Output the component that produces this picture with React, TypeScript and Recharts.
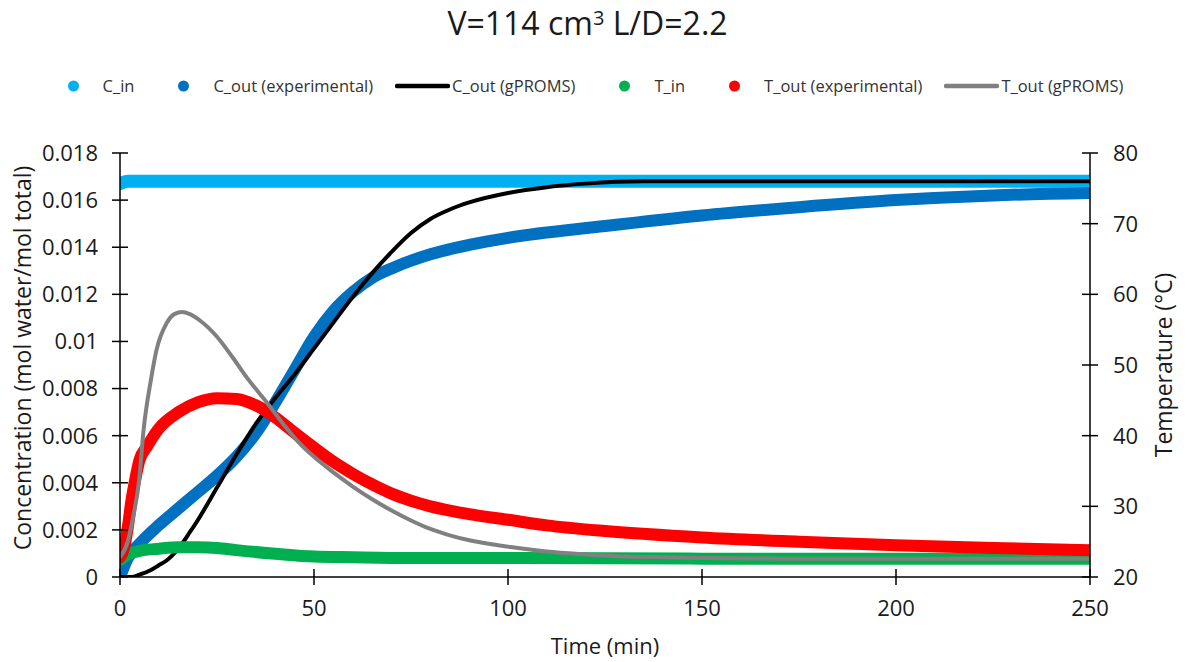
import React from "react";
import { LineChart, Line, XAxis, YAxis, Legend, Label } from "recharts";

const FONT = "'Open Sans', sans-serif";

// axis ticks
const timeTicks = [0, 50, 100, 150, 200, 250];
const concTicks = [0, 0.002, 0.004, 0.006, 0.008, 0.01, 0.012, 0.014, 0.016, 0.018];
const concTickLabels = ["0", "0.002", "0.004", "0.006", "0.008", "0.01", "0.012", "0.014", "0.016", "0.018"];
const tempTicks = [20, 30, 40, 50, 60, 70, 80];

// C_in (experimental)
const cInTime = [0, 2, 25, 50, 75, 100, 125, 150, 175, 200, 225, 250];
const cInValues = [0.0167, 0.0168, 0.0168, 0.0168, 0.0168, 0.0168, 0.0168, 0.0168, 0.0168, 0.0168, 0.0168, 0.0168];

// C_out (experimental)
const cOutTime = [0, 2, 5, 10, 15, 20, 25, 30, 35, 40, 45, 50, 55, 60, 65, 70, 80, 90, 100, 125, 150, 175, 200, 225, 250];
const cOutValues = [0, 0.0008, 0.0014, 0.0022, 0.0029, 0.0036, 0.0043, 0.0051, 0.0061, 0.0074, 0.0088, 0.0102, 0.0113, 0.0121, 0.0127, 0.0131, 0.0137, 0.0141, 0.0144, 0.0149, 0.01535, 0.0157, 0.016, 0.0162, 0.0163];

// C_out (gPROMS)
const cModelTime = [0, 3, 5, 8, 10, 12, 15, 18, 20, 25, 30, 35, 40, 45, 50, 55, 60, 65, 70, 75, 80, 85, 90, 100, 110, 120, 135, 175, 250];
const cModelValues = [0, 0, 0.0001, 0.0003, 0.0005, 0.0007, 0.0012, 0.0019, 0.0024, 0.0038, 0.0052, 0.0065, 0.0076, 0.0086, 0.0097, 0.0108, 0.0119, 0.0129, 0.0138, 0.0146, 0.0152, 0.0156, 0.0159, 0.0163, 0.01655, 0.0167, 0.0168, 0.0168, 0.0168];

// T_in (experimental)
const tInTime = [0, 2, 5, 10, 15, 20, 25, 30, 40, 50, 60, 75, 100, 150, 200, 250];
const tInValues = [22.4, 23.2, 23.7, 24.0, 24.2, 24.2, 24.1, 23.8, 23.3, 22.9, 22.8, 22.7, 22.7, 22.6, 22.6, 22.6];

// T_out (experimental)
const tOutTime = [0, 1, 2, 3, 4, 5, 7, 10, 15, 20, 25, 30, 35, 40, 45, 50, 55, 60, 65, 70, 75, 80, 85, 90, 100, 110, 125, 150, 175, 200, 225, 250];
const tOutValues = [22.8, 24, 27, 31, 34, 36.5, 38.5, 41, 43.3, 44.7, 45.3, 45.2, 44.3, 42.6, 40.4, 38.3, 36.3, 34.6, 33.1, 31.8, 30.8, 30.0, 29.4, 28.9, 28.1, 27.3, 26.5, 25.6, 25.0, 24.5, 24.1, 23.8];

// T_out (gPROMS)
const tModelTime = [0, 2, 3.4, 5, 6, 8, 9.4, 12, 14, 16, 18, 20.6, 25, 29, 33, 38, 42, 46, 50, 55, 60, 65, 70, 75, 80, 85, 90, 95, 100, 110, 120, 130, 140, 175, 250];
const tModelValues = [22.8, 25, 28.5, 34, 40.4, 48, 52.1, 55.9, 57.2, 57.5, 57.2, 56.3, 54, 51.1, 48, 44.6, 41.7, 39.1, 37.0, 34.8, 32.8, 31.0, 29.4, 28.0, 26.8, 25.9, 25.2, 24.7, 24.3, 23.6, 23.2, 22.9, 22.8, 22.6, 22.6];

const zip = (ts: number[], vs: number[]) => ts.map((t, i) => ({ t, v: vs[i] }));

const series = [
  { name: "C_in", color: "#00B0F0", kind: "dot" },
  { name: "C_out (experimental)", color: "#0070C0", kind: "dot" },
  { name: "C_out (gPROMS)", color: "#000000", kind: "line" },
  { name: "T_in", color: "#00B050", kind: "dot" },
  { name: "T_out (experimental)", color: "#FF0000", kind: "dot" },
  { name: "T_out (gPROMS)", color: "#808080", kind: "line" },
];

const TICK = 8;
const TEXT = "#1a1a1a";

function LeftTick(props: any) {
  const { x, y, payload } = props;
  const ax = x + 14 + TICK;
  const i = concTicks.indexOf(payload.value);
  return (
    <g>
      <line x1={ax - TICK} x2={ax + TICK} y1={y} y2={y} stroke="#000" strokeWidth={1.5} />
      <text x={x} y={y} dy="0.36em" textAnchor="end" fontFamily={FONT} fontSize={22} fill={TEXT}>
        {i >= 0 ? concTickLabels[i] : payload.value}
      </text>
    </g>
  );
}

function RightTick(props: any) {
  const { x, y, payload } = props;
  const ax = x - 15 - TICK;
  return (
    <g>
      <line x1={ax - TICK} x2={ax + TICK} y1={y} y2={y} stroke="#000" strokeWidth={1.5} />
      <text x={x} y={y} dy="0.36em" textAnchor="start" fontFamily={FONT} fontSize={22} fill={TEXT}>
        {payload.value}
      </text>
    </g>
  );
}

function BottomTick(props: any) {
  const { x, y, payload } = props;
  const ay = y - 12 - TICK;
  return (
    <g>
      <line x1={x} x2={x} y1={ay - TICK} y2={ay + TICK} stroke="#000" strokeWidth={1.5} />
      <text x={x} y={y} dy="0.85em" textAnchor="middle" fontFamily={FONT} fontSize={22} fill={TEXT}>
        {payload.value}
      </text>
    </g>
  );
}

function renderLegend() {
  return (
    <div
      style={{
        display: "flex",
        justifyContent: "center",
        alignItems: "center",
        fontFamily: FONT,
        fontSize: 16.5,
        color: "#333",
        paddingLeft: 4,
      }}
    >
      {series.map((s) => (
        <div key={s.name} style={{ display: "flex", alignItems: "center", marginRight: 22 }}>
          <svg width={55} height={20}>
            {s.kind === "dot" ? (
              <circle cx={27.5} cy={10} r={5.5} fill={s.color} />
            ) : (
              <line x1={2} x2={53} y1={10} y2={10} stroke={s.color} strokeWidth={4.5} strokeLinecap="round" />
            )}
          </svg>
          <span style={{ marginLeft: 2, whiteSpace: "nowrap" }}>{s.name}</span>
        </div>
      ))}
    </div>
  );
}

export default function App() {
  return (
    <div style={{ position: "absolute", left: 0, top: 0, width: 1187, height: 662, background: "#fff" }}>
      <div
        style={{
          position: "absolute",
          left: 0,
          top: 1,
          width: 1175,
          textAlign: "center",
          fontFamily: FONT,
          fontSize: 32,
          color: TEXT,
          whiteSpace: "nowrap",
        }}
      >
        V=114 cm<sup style={{ fontSize: 20, verticalAlign: "10px", lineHeight: 0 }}>3</sup> L/D=2.2
      </div>
      <LineChart width={1187} height={662} margin={{ top: 153, right: 12, bottom: 25, left: 20 }}>
        <XAxis
          dataKey="t"
          type="number"
          domain={[0, 250]}
          ticks={timeTicks}
          allowDataOverflow
          stroke="#000"
          strokeWidth={1.5}
          tickLine={false}
          tickSize={TICK}
          tickMargin={12}
          height={60}
          tick={<BottomTick />}
        >
          <Label
            content={() => (
              <text x={605} y={645} textAnchor="middle" dominantBaseline="central" fontFamily={FONT} fontSize={22} fill={TEXT}>
                Time (min)
              </text>
            )}
          />
        </XAxis>
        <YAxis
          yAxisId="c"
          orientation="left"
          domain={[0, 0.018]}
          ticks={concTicks}
          allowDataOverflow
          stroke="#000"
          strokeWidth={1.5}
          tickLine={false}
          tickSize={TICK}
          tickMargin={14}
          width={100}
          tick={<LeftTick />}
        >
          <Label
            content={() => (
              <text
                x={22}
                y={358}
                transform="rotate(-90 22 358)"
                textAnchor="middle"
                dominantBaseline="central"
                fontFamily={FONT}
                fontSize={23}
                fill={TEXT}
              >
                Concentration (mol water/mol total)
              </text>
            )}
          />
        </YAxis>
        <YAxis
          yAxisId="T"
          orientation="right"
          domain={[20, 80]}
          ticks={tempTicks}
          allowDataOverflow
          stroke="#000"
          strokeWidth={1.5}
          tickLine={false}
          tickSize={TICK}
          tickMargin={15}
          width={85}
          tick={<RightTick />}
        >
          <Label
            content={() => (
              <text
                x={1163}
                y={365}
                transform="rotate(-90 1163 365)"
                textAnchor="middle"
                dominantBaseline="central"
                fontFamily={FONT}
                fontSize={23}
                fill={TEXT}
              >
                Temperature (°C)
              </text>
            )}
          />
        </YAxis>
        <Legend
          verticalAlign="middle"
          align="center"
          layout="horizontal"
          content={renderLegend}
          wrapperStyle={{ top: 74, left: 0, width: 1187 }}
        />
        <Line
          yAxisId="c"
          data={zip(cInTime, cInValues)}
          dataKey="v"
          name="C_in"
          type="monotone"
          stroke="#00B0F0"
          strokeWidth={13}
          strokeLinecap="round"
          dot={false}
          isAnimationActive={false}
        />
        <Line
          yAxisId="c"
          data={zip(cOutTime, cOutValues)}
          dataKey="v"
          name="C_out (experimental)"
          type="monotone"
          stroke="#0070C0"
          strokeWidth={12}
          strokeLinecap="round"
          dot={false}
          isAnimationActive={false}
        />
        <Line
          yAxisId="c"
          data={zip(cModelTime, cModelValues)}
          dataKey="v"
          name="C_out (gPROMS)"
          type="monotone"
          stroke="#000000"
          strokeWidth={4}
          dot={false}
          isAnimationActive={false}
        />
        <Line
          yAxisId="T"
          data={zip(tInTime, tInValues)}
          dataKey="v"
          name="T_in"
          type="monotone"
          stroke="#00B050"
          strokeWidth={12}
          strokeLinecap="round"
          dot={false}
          isAnimationActive={false}
        />
        <Line
          yAxisId="T"
          data={zip(tOutTime, tOutValues)}
          dataKey="v"
          name="T_out (experimental)"
          type="monotone"
          stroke="#FF0000"
          strokeWidth={12}
          strokeLinecap="round"
          dot={false}
          isAnimationActive={false}
        />
        <Line
          yAxisId="T"
          data={zip(tModelTime, tModelValues)}
          dataKey="v"
          name="T_out (gPROMS)"
          type="monotone"
          stroke="#808080"
          strokeWidth={4}
          dot={false}
          isAnimationActive={false}
        />
      </LineChart>
    </div>
  );
}
